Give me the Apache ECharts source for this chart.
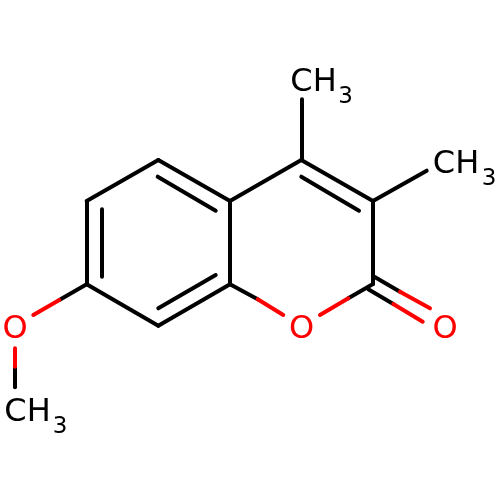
<!DOCTYPE html>
<html>
<head>
<meta charset="utf-8">
<style>html,body{margin:0;padding:0;background:#fff}#c{width:500px;height:500px}</style>
<script src="https://cdn.jsdelivr.net/npm/echarts@6/dist/echarts.min.js"></script>
</head>
<body>
<div id="c"></div>
<script>
// Bond segments as [x1, y1, x2, y2]
const blackBonds = [
  [158.3,160,86.7,201],[86.7,201,86.7,284.3],[86.7,284.3,158.3,325.7],
  [158.3,325.7,230,284.3],[230,284.3,230,201],[230,201,158.3,160],
  [157.7,176.7,215.7,210.7],[101.7,209.3,101.7,276.7],[158.3,308.3,215.7,275],
  [230,201,301.3,160],[301.3,160,373,201],[373,201,373,284],
  [301.3,176.7,359,210.7],[301.3,160,301.3,99.3],[373,201,426.7,170.7],
  [230,284.3,257.7,299.3],[373,284,348.3,298.3],
  [373,276,400,291.7],[368.3,289.3,393.3,304],
  [86.7,284.3,59.3,300],[15,366.7,15,387.3]
];
const redBonds = [
  [257.7,299.3,283.3,315],[348.3,298.3,320,315],
  [400,291.7,430,308.3],[393.3,304,422.7,321.7],
  [59.3,300,33.3,315],[15,348.3,15,366.7]
];
const blackLabels = [
  ['CH',313.5,82.5],['3',345.5,97],
  ['CH',456,164.5],['3',489,179],
  ['CH',27.5,413],['3',60,427.5]
];
const redLabels = [['O',15,330],['O',301.7,330],['O',445,330]];

const chart = echarts.init(document.getElementById('c'), null, {renderer:'canvas'});
const seg = a => a.map(s => ({coords:[[s[0],s[1]],[s[2],s[3]]]}));
const lab = (rows,color) => ({
  type:'scatter', symbolSize:1, itemStyle:{color:'rgba(255,255,255,0)',opacity:1}, silent:true, z:5,
  data: rows.map(r => ({
    value:[r[1],r[2]],
    label:{show:true, position:'inside', align:'center', verticalAlign:'middle', opacity:1,
      formatter:r[0], color, fontFamily:'DejaVu Sans', fontSize:r[0]==='3'?23:32}
  }))
});
chart.setOption({
  animation:false, backgroundColor:'#fff',
  grid:{left:0,right:0,top:0,bottom:0},
  xAxis:{type:'value',min:0,max:500,show:false},
  yAxis:{type:'value',min:0,max:500,inverse:true,show:false},
  series:[
    {type:'lines',coordinateSystem:'cartesian2d',silent:true,lineStyle:{color:'#000',width:4,opacity:1,curveness:0,cap:'round'},data:seg(blackBonds)},
    {type:'lines',coordinateSystem:'cartesian2d',silent:true,lineStyle:{color:'#f00',width:4,opacity:1,curveness:0,cap:'round'},data:seg(redBonds)},
    lab(blackLabels,'#000'),
    lab(redLabels,'#f00')
  ]
});
</script>
</body>
</html>
